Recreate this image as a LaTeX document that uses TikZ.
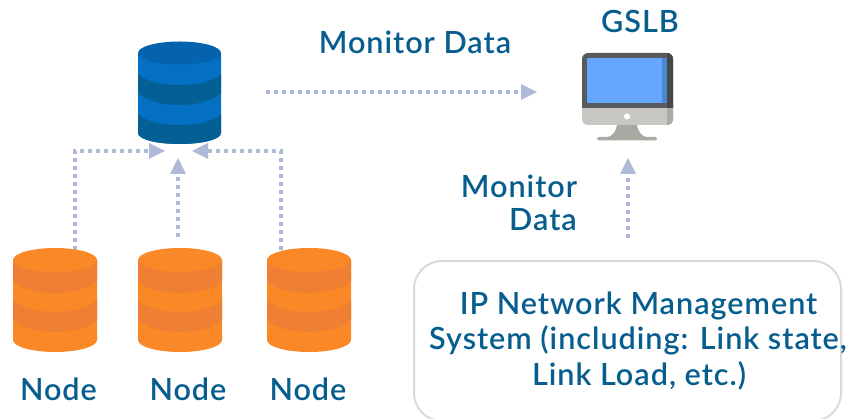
\documentclass[tikz,border=0pt]{standalone}
\usepackage{fontspec}
\setmainfont{Lato}
\newfontfamily\labfont{Lato Semibold}[LetterSpace=3.2]
\definecolor{txt}{HTML}{075E8E}
\definecolor{arr}{HTML}{ADBBD6}
\definecolor{ol}{HTML}{FB8826}
\definecolor{od}{HTML}{EE7F33}
\definecolor{bl}{HTML}{0470C4}
\definecolor{bd}{HTML}{045F95}
\definecolor{btop}{HTML}{0463AC}
\definecolor{bez}{HTML}{575B5B}
\definecolor{bezd}{HTML}{474949}
\definecolor{chin}{HTML}{C9C7C1}
\definecolor{chind}{HTML}{ABAAA4}
\definecolor{scr}{HTML}{66A6FF}
\definecolor{scrd}{HTML}{4A88D6}
\definecolor{stand}{HTML}{A9A9A3}
\definecolor{boxline}{HTML}{DADADA}
\tikzset{x=1pt,y=-1pt,
 flow/.style={draw=arr,line width=4.4pt,dash pattern=on 4pt off 4pt},
 headtri/.style={fill=arr},
 lab/.style={text=txt,font=\fontsize{30.6}{36}\labfont,inner sep=0pt,anchor=base},
 anchorbox/.style={inner sep=0pt,minimum width=84pt,minimum height=104pt},
 sysbox/.style={draw=boxline,line width=2pt,rounded corners=28pt}}
\newcommand{\orangecyl}[1]{%
 \begin{scope}[xshift=#1pt]
 \fill[ol] (0,12) -- (0,92) .. controls (0,98.6) and (18.8,104) .. (42,104) .. controls (65.2,104) and (84,98.6) .. (84,92) -- (84,12) -- cycle;
 \fill[od] (0,12) -- (0,33) .. controls (8,41) and (25,45) .. (42,45) .. controls (59,45) and (76,41) .. (84,33) -- (84,12) -- cycle;
 \fill[od] (0,52) -- (0,72) .. controls (8,80) and (25,84) .. (42,84) .. controls (59,84) and (76,80) .. (84,72) -- (84,52) .. controls (76,60) and (59,64) .. (42,64) .. controls (25,64) and (8,60) .. (0,52) -- cycle;
 \fill[ol] (42,12) ellipse[x radius=42,y radius=12];
 \end{scope}}
\begin{document}
\begin{tikzpicture}
\useasboundingbox (0,0) rectangle (851,419);
% named anchors
\node[anchorbox] (dbtop) at (179.5,93) {};
\node[anchorbox] (n1) at (55,300) {};
\node[anchorbox] (n2) at (180,300) {};
\node[anchorbox] (n3) at (309,300) {};
\coordinate (hubL) at (165,151);
\coordinate (hubM) at (178,158);
\coordinate (hubR) at (192,151);
\coordinate (monFrom) at (266,92);
\coordinate (monTo) at (537,92);
\coordinate (gslbIn) at (628,158);
\coordinate (nmsOut) at (628,238);
% connectors
\draw[flow] (75,250) -- (75,151) -- (150,151);
\draw[flow] (281,250) -- (281,151) -- (208,151);
\draw[flow] (178,237) -- (178,175);
\draw[flow] (monFrom) -- (522,92);
\draw[flow] (nmsOut) -- (628,175);
% heads
\fill[headtri] (hubL) -- ++(-16,-8) -- ++(0,16) -- cycle;
\fill[headtri] (hubR) -- ++(16,-8) -- ++(0,16) -- cycle;
\fill[headtri] (hubM) -- ++(-8,16) -- ++(16,0) -- cycle;
\fill[headtri] (monTo) -- ++(-16,-8) -- ++(0,16) -- cycle;
\fill[headtri] (gslbIn) -- ++(-8,16) -- ++(16,0) -- cycle;
% blue db
\begin{scope}[xshift=138pt,yshift=-41pt]
 \fill[bl] (0,12) -- (0,92) .. controls (0,98.4) and (18.6,103) .. (41.5,103) .. controls (64.4,103) and (83,98.4) .. (83,92) -- (83,12) -- cycle;
 \fill[bd] (0,52) -- (0,33) .. controls (8,41) and (25,44) .. (41.5,44) .. controls (58,44) and (75,41) .. (83,33) -- (83,52) .. controls (75,60) and (58,64) .. (41.5,64) .. controls (25,64) and (8,60) .. (0,52) -- cycle;
 \fill[bd] (0,73) .. controls (8,81) and (25,84) .. (41.5,84) .. controls (58,84) and (75,81) .. (83,73) -- (83,92) .. controls (83,98.4) and (64.4,103) .. (41.5,103) .. controls (18.6,103) and (0,98.4) .. (0,92) -- cycle;
 \fill[btop] (41.5,12) ellipse[x radius=41.5,y radius=11.5];
\end{scope}
% orange
\begin{scope}[yshift=-248pt]
\orangecyl{13}
\orangecyl{138}
\orangecyl{267}
\end{scope}
% monitor
\fill[stand] (617,125) -- (637,125) .. controls (638,131) and (641,136) .. (647,137.5) -- (607,137.5) .. controls (613,136) and (616,131) .. (617,125) -- cycle;
\fill[stand,rounded corners=1.5pt] (597,137) rectangle (657,140.5);
\fill[chin,rounded corners=5pt] (582,100) rectangle (673,125);
\begin{scope}
\clip (667,100) rectangle (674,126);
\fill[chind,rounded corners=5pt] (582,100) rectangle (673,125);
\end{scope}
\begin{scope}
\clip (581,52) rectangle (674,108);
\fill[bez,rounded corners=6pt] (582,53) rectangle (673,125);
\clip (667,52) rectangle (674,108);
\fill[bezd,rounded corners=6pt] (582,53) rectangle (673,125);
\end{scope}
\fill[scr] (587,58) rectangle (667,103);
\fill[scrd] (662,58) rectangle (667,103);
\fill[white] (627,116.5) circle[radius=3];
% system box
\draw[sysbox] (414,421) -- (414,261) -- (841,261) -- (841,421) -- cycle;
% labels
\node[lab] (t1) at (415,54) {Monitor Data};
\node[lab] (t2) at (640,33) {GSLB};
\node[lab] (t3) at (519,198) {Monitor};
\node[lab] (t4) at (543,231) {Data};
\node[lab] (l1) at (58.5,400) {Node};
\node[lab] (l2) at (188,400) {Node};
\node[lab] (l3) at (308,400) {Node};
\node[lab] (s1) at (638.5,315) {IP Network Management};
\node[lab] (s2) at (638,350) {System (including: Link state,};
\node[lab] (s3) at (639,385) {Link Load, etc.)};
\end{tikzpicture}
\end{document}
